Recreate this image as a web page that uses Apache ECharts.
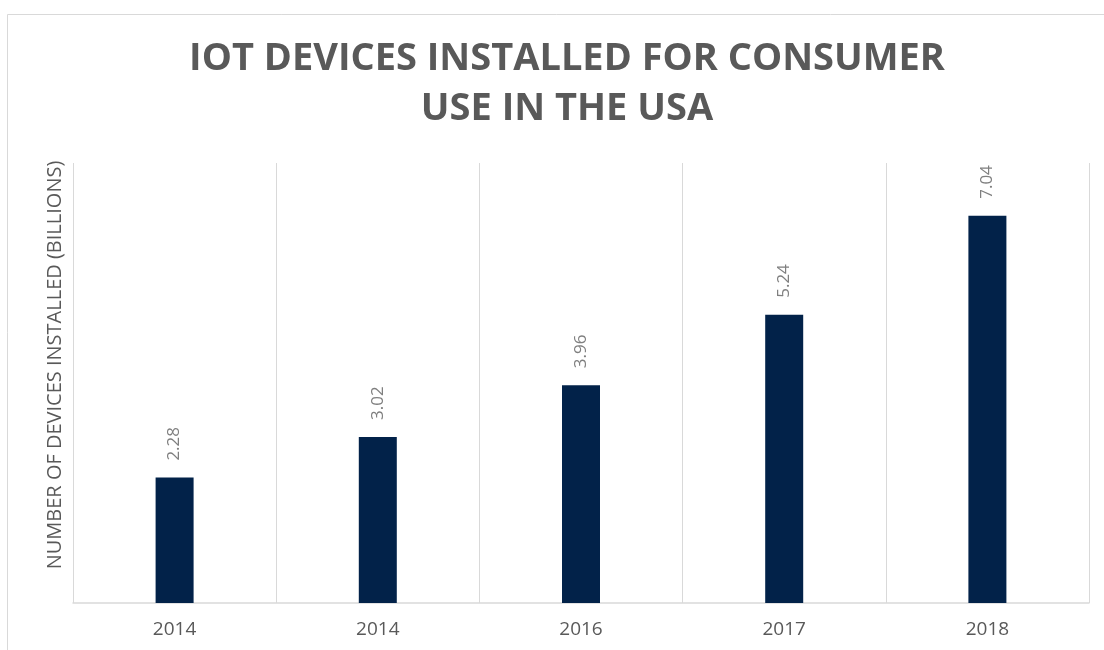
<!DOCTYPE html>
<html>
<head>
<meta charset="utf-8">
<script src="https://cdn.jsdelivr.net/npm/echarts@6/dist/echarts.min.js"></script>
<style>html,body{margin:0;padding:0;background:#fff}#c{width:1104px;height:650px}</style>
</head>
<body>
<div id="c"></div>
<script>
const titleText = 'IOT DEVICES INSTALLED FOR CONSUMER\nUSE IN THE USA';
const yAxisName = 'NUMBER OF DEVICES INSTALLED (BILLIONS)';
const categories = ['2014', '2014', '2016', '2017', '2018'];
const values = [2.28, 3.02, 3.96, 5.24, 7.04];

const chart = echarts.init(document.getElementById('c'), null, {renderer: 'canvas'});
chart.setOption({
  backgroundColor: '#fff',
  animation: false,
  graphic: [{
    type: 'rect', left: 5, top: 12, silent: true,
    shape: {width: 1120, height: 700},
    style: {fill: 'none', stroke: '#d9d9d9', lineWidth: 1}
  }],
  title: {
    text: titleText,
    left: 562, top: 29, textAlign: 'center',
    textStyle: {fontFamily: 'Open Sans', fontWeight: 'bold', fontSize: 38, lineHeight: 50, color: '#595959'}
  },
  grid: {left: 73, right: 15, top: 163, bottom: 47, containLabel: false},
  xAxis: {
    type: 'category', data: categories,
    axisLine: {show: true, lineStyle: {color: '#d9d9d9', width: 1.5}},
    axisTick: {show: false},
    axisLabel: {color: '#595959', fontFamily: 'Open Sans', fontSize: 19, margin: 17},
    splitLine: {show: true, showMinLine: true, showMaxLine: true, lineStyle: {color: '#d9d9d9', width: 1}}
  },
  yAxis: {
    type: 'value', min: 0, max: 8,
    name: yAxisName, nameLocation: 'middle', nameGap: 8, nameRotate: 90,
    nameTextStyle: {color: '#595959', fontFamily: 'Open Sans', fontSize: 20, padding: [0, 0, 0, 36]},
    axisLine: {show: false}, axisTick: {show: false}, axisLabel: {show: false},
    splitLine: {show: false}
  },
  series: [{
    type: 'bar', data: values, barWidth: 38,
    itemStyle: {color: '#022249'},
    label: {
      show: true, position: 'top', rotate: 90, align: 'left', verticalAlign: 'middle', distance: 17,
      color: '#7f7f7f', fontFamily: 'Open Sans', fontSize: 17,
      formatter: p => p.value.toFixed(2)
    }
  }]
});
</script>
</body>
</html>
